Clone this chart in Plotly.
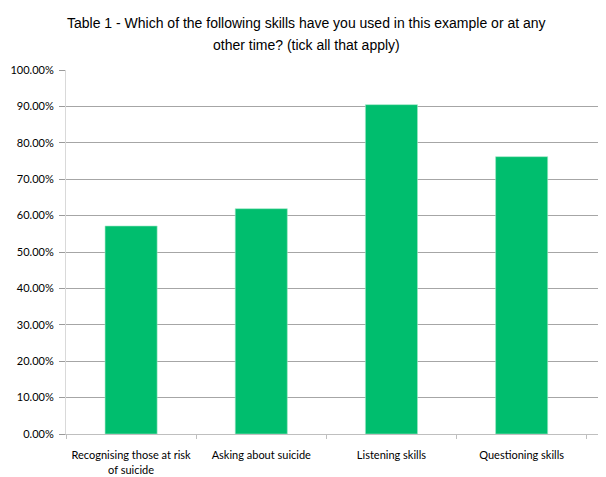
import plotly.graph_objects as go

categories = ["Recognising those at risk<br>of suicide", "Asking about suicide", "Listening skills", "Questioning skills"]
values = [0.5714, 0.6190, 0.9048, 0.7619]
y_ticks = [0, 0.1, 0.2, 0.3, 0.4, 0.5, 0.6, 0.7, 0.8, 0.9, 1.0]
y_tick_labels = ["0.00%", "10.00%", "20.00%", "30.00%", "40.00%", "50.00%", "60.00%", "70.00%", "80.00%", "90.00%", "100.00%"]
title_lines = ["Table 1 - Which of the following skills have you used in this example or at any",
               "other time? (tick all that apply)"]

W, H = 598, 469
L, R, T, B = 58, 0, 62, 43
pw, ph = W - L - R, H - T - B

def px_to_paper_y(py):
    return (H - B - py) / ph

def px_to_paper_x(px):
    return (px - L) / pw

fig = go.Figure(go.Bar(
    x=categories, y=values,
    marker=dict(color="#00BE6E", line=dict(color="#9fe8c6", width=0.6)),
    width=0.4,
))

title_font = dict(family="Liberation Sans, Arial", size=14, color="#000000")
for line, py in zip(title_lines, [15, 37]):
    fig.add_annotation(text=line, xref="paper", yref="paper",
                       x=px_to_paper_x(298), y=px_to_paper_y(py),
                       xanchor="center", yanchor="middle", showarrow=False,
                       font=title_font)

fig.update_layout(
    width=W, height=H,
    margin=dict(l=L, r=R, t=T, b=B),
    paper_bgcolor="white", plot_bgcolor="white",
    showlegend=False,
    font=dict(family="Lato, Carlito, Calibri, sans-serif", size=11, color="#000000"),
)

fig.update_xaxes(
    range=[-0.5, 3.648], automargin=False, tickangle=0,
    showline=True, linecolor="#bfbfbf", linewidth=1,
    ticks="outside", tickson="boundaries", ticklen=4, tickcolor="#bfbfbf",
    ticklabelstandoff=11,
    showgrid=False, tickfont=dict(size=11, color="#000000"),
)
fig.update_yaxes(
    range=[0, 1.0], tickvals=y_ticks, ticktext=y_tick_labels, automargin=False,
    showline=True, linecolor="#d9d9d9", linewidth=1,
    ticks="outside", ticklen=6, tickcolor="#9a9a9a",
    ticklabelstandoff=3,
    showgrid=True, gridcolor="#a6a6a6", gridwidth=1,
    zeroline=False, tickfont=dict(size=11, color="#000000"),
)

fig.write_html("out.html")
